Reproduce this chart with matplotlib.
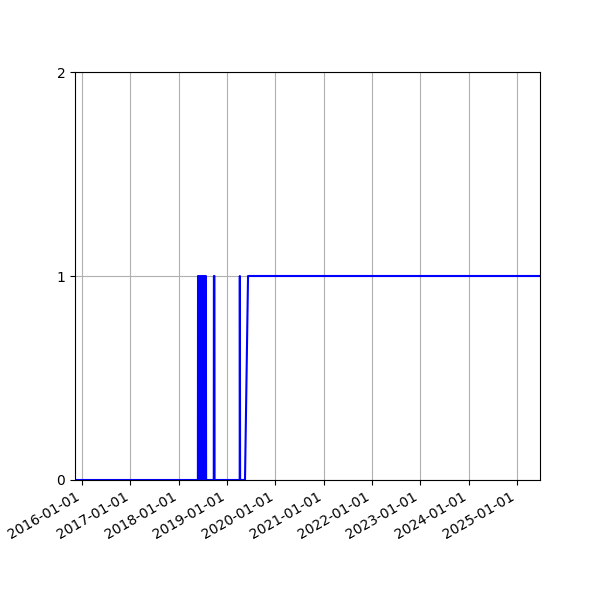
import pandas as pd
import matplotlib
matplotlib.use('Agg')
import matplotlib.pyplot as plt
import matplotlib.dates as mdates

# Pontos da série (data, valor)
dates = ['2015-11-09', '2018-05-26', '2018-05-27', '2018-06-03', '2018-06-08',
         '2018-06-15', '2018-06-20', '2018-06-27', '2018-07-02', '2018-07-09',
         '2018-07-14', '2018-07-20', '2018-07-25', '2018-07-27', '2018-09-23',
         '2018-09-24', '2018-09-28', '2018-09-29', '2019-04-07', '2019-04-08',
         '2019-04-10', '2019-05-17', '2019-06-09', '2025-06-24']
values = [0, 0, 1, 0, 1,
          0, 1, 0, 1, 0,
          1, 0, 1, 0, 0,
          1, 1, 0, 0, 1,
          0, 0, 1, 1]
y_ticks = [0, 1, 2]

x = pd.to_datetime(dates)

fig, ax = plt.subplots(figsize=(6, 6), dpi=100)
ax.plot(x, values, color='blue')
ax.set_xlim(x[0], x[-1])
ax.set_ylim(0, 2)
ax.set_yticks(y_ticks)
ax.xaxis.set_major_locator(mdates.YearLocator())
ax.xaxis.set_major_formatter(mdates.DateFormatter('%Y-%m-%d'))
ax.grid(True)
fig.autofmt_xdate()
plt.savefig('out.png')
